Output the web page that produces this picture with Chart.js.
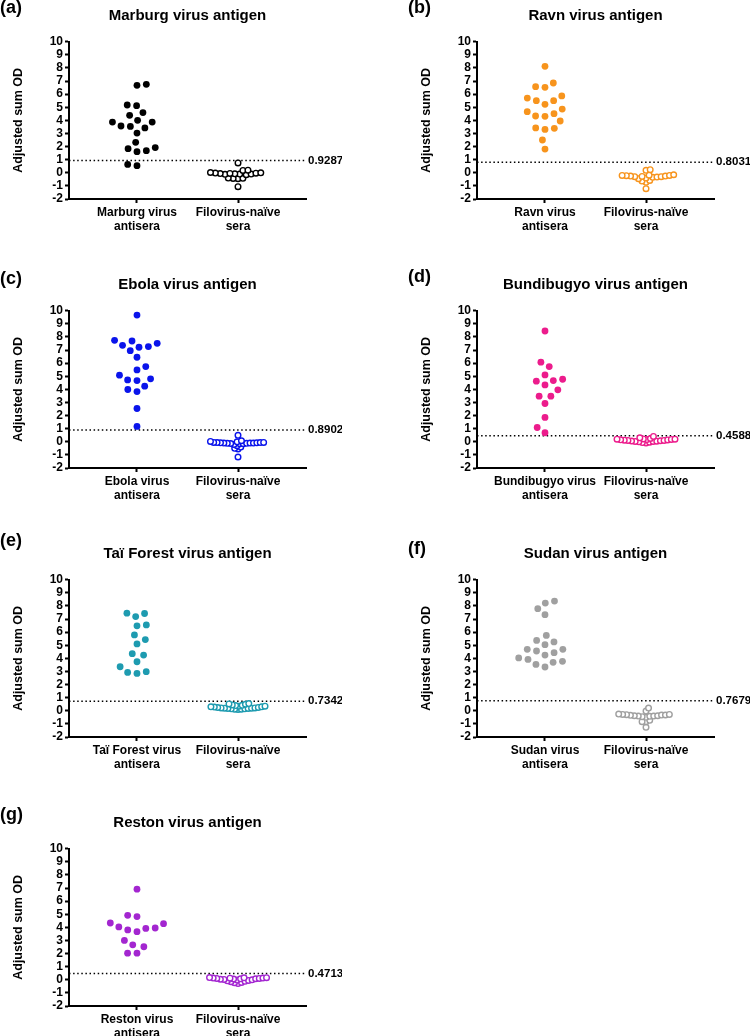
<!DOCTYPE html>
<html>
<head>
<meta charset="utf-8">
<script src="https://cdn.jsdelivr.net/npm/chart.js@4.4.1/dist/chart.umd.min.js"></script>
<style>
  html, body { margin: 0; padding: 0; background: #fff; overflow: hidden; }
  #fig { position: relative; width: 750px; height: 1036px; }
  #fig canvas { position: absolute; }
</style>
</head>
<body>
<div id="fig"></div>
<script>
// panel texts
const panelLetters = ['(a)', '(b)', '(c)', '(d)', '(e)', '(f)', '(g)'];
const antigenTitles = ['Marburg virus antigen', 'Ravn virus antigen', 'Ebola virus antigen',
  'Bundibugyo virus antigen', 'Taï Forest virus antigen', 'Sudan virus antigen', 'Reston virus antigen'];
const antiseraLabels = [
  ['Marburg virus', 'antisera'], ['Ravn virus', 'antisera'], ['Ebola virus', 'antisera'],
  ['Bundibugyo virus', 'antisera'], ['Taï Forest virus', 'antisera'], ['Sudan virus', 'antisera'],
  ['Reston virus', 'antisera']
];
const naiveLabel = ['Filovirus-naïve', 'sera'];
const yAxisTitle = 'Adjusted sum OD';
const yMin = -2, yMax = 10;

// cut-off values (dotted line)
const cutoffs = [0.9287, 0.8031, 0.8902, 0.4588, 0.7342, 0.7679, 0.4713];

// values
const marburgAntisera = [6.75, 6.67, 5.17, 5.12, 4.59, 4.38, 3.87, 3.87, 4.0, 3.54, 3.42, 3.57, 3.03, 2.32, 1.92, 1.84, 1.69, 1.61, 0.54, 0.64];
const marburgNaive = [0.75, 0.2, 0.18, 0.02, -0.02, -0.05, -0.08, -0.1, -0.12, -0.15, -0.1, -0.06, -0.03, 0.0, -0.42, -0.45, -0.43, -0.4, -1.06];

const ravnAntisera = [8.12, 6.85, 6.52, 6.57, 5.7, 5.86, 5.5, 5.5, 5.22, 4.86, 4.66, 4.51, 4.31, 4.33, 3.95, 3.39, 3.31, 3.42, 2.5, 1.81];
const ravnNaive = [0.24, 0.19, -0.15, -0.18, -0.2, -0.22, -0.25, -0.28, -0.3, -0.33, -0.35, -0.3, -0.25, -0.2, -0.45, -0.58, -0.63, -0.73, -1.21, -0.4];

const ebolaAntisera = [9.67, 7.69, 7.74, 7.36, 7.51, 7.21, 7.26, 6.95, 6.45, 5.74, 5.48, 5.08, 4.72, 4.67, 4.8, 4.24, 3.83, 3.99, 2.54, 1.17];
const ebolaNaive = [0.49, 0.08, 0.03, 0.0, -0.05, -0.06, -0.08, -0.1, -0.1, -0.12, -0.13, -0.15, -0.15, -0.12, -0.1, -0.08, -0.06, -0.05, -0.3, -0.4, -0.5, -0.55, -1.16, -0.2];

const bundibugyoAntisera = [8.45, 6.07, 5.74, 5.1, 4.67, 4.77, 4.62, 4.34, 3.96, 3.48, 3.48, 2.92, 1.86, 1.09, 0.69];
const bundibugyoNaive = [0.41, 0.3, 0.25, 0.22, 0.2, 0.18, 0.15, 0.12, 0.1, 0.08, 0.05, 0.03, 0.0, -0.03, -0.06, -0.1, 0.02, 0.06, 0.1, 0.14, 0.17, 0.2];

const taiForestAntisera = [7.42, 7.45, 7.19, 6.55, 6.48, 5.79, 5.43, 5.1, 4.25, 4.36, 3.74, 3.36, 2.98, 2.85, 2.93];
const taiForestNaive = [0.55, 0.52, 0.45, 0.4, 0.35, 0.3, 0.28, 0.25, 0.22, 0.2, 0.18, 0.15, 0.12, 0.1, 0.12, 0.15, 0.18, 0.2, 0.22, 0.26, 0.3, 0.35, 0.42, 0.5];

const sudanAntisera = [8.37, 8.22, 7.79, 7.33, 5.75, 5.37, 5.25, 5.04, 4.69, 4.69, 4.56, 4.43, 4.25, 3.92, 4.03, 3.7, 3.77, 3.34, 3.54];
const sudanNaive = [0.21, -0.02, -0.25, -0.28, -0.3, -0.32, -0.35, -0.38, -0.4, -0.42, -0.45, -0.38, -0.33, -0.28, -0.5, -0.73, -0.83, -0.83, -1.26, -0.4];

const restonAntisera = [6.91, 4.92, 4.82, 4.28, 4.33, 3.95, 3.92, 4.03, 3.8, 3.67, 3.0, 2.67, 2.52, 2.03, 2.03];
const restonNaive = [0.17, 0.15, 0.13, 0.12, 0.1, 0.08, 0.06, 0.04, 0.0, -0.05, -0.12, -0.2, -0.29, -0.22, -0.15, -0.08, -0.02, 0.03, 0.07, 0.1, 0.13, 0.16];

const antiseraGroups = [marburgAntisera, ravnAntisera, ebolaAntisera, bundibugyoAntisera, taiForestAntisera, sudanAntisera, restonAntisera];
const naiveGroups = [marburgNaive, ravnNaive, ebolaNaive, bundibugyoNaive, taiForestNaive, sudanNaive, restonNaive];

// styles
const colours = ['#000000', '#F7941D', '#0A14EB', '#EC1C8C', '#1E9BB0', '#A0A0A0', '#A326D0'];
const FONT = '"Liberation Sans", Arial, sans-serif';

// where each panel goes on the page (canvas left, top, y of the letter inside the canvas)
const panelPos = [
  [0, -10, 18], [408, -10, 18], [0, 259, 20], [408, 259, 18],
  [0, 528, 13], [408, 528, 21], [0, 797, 18]
];
const CW = 342, CH = 246;
const AREA_LEFT = 69, AREA_RIGHT = 306, AREA_TOP = 51.7, AREA_BOTTOM = 209;
const X_MIN = 0.327, X_MAX = 2.673;
const PX_X = (AREA_RIGHT - AREA_LEFT) / (X_MAX - X_MIN);
const PX_Y = (AREA_BOTTOM - AREA_TOP) / (yMax - yMin);

// scatter dot plot layout: put each point as close to the column centre
// as possible without hitting the ones already placed, squeeze if too wide
function placeOnce(sorted, dist) {
  const placed = [];
  let side = -1;
  sorted.forEach(v => {
    const py = v * PX_Y;
    const near = placed.filter(p => Math.abs(p.py - py) < dist);
    const cands = [0];
    near.forEach(p => {
      const h = Math.sqrt(dist * dist - (p.py - py) * (p.py - py));
      cands.push(p.dx + h, p.dx - h);
    });
    const ok = cands.filter(c => near.every(p => (c - p.dx) ** 2 + (py - p.py) ** 2 >= dist * dist - 0.01));
    const best = Math.min(...ok.map(c => Math.abs(c)));
    const ties = ok.filter(c => Math.abs(Math.abs(c) - best) < 0.05);
    let dx = ties.find(c => Math.sign(c) === side);
    if (dx === undefined) dx = ties[0];
    if (Math.abs(dx) > 0.05) side = -side;
    placed.push({ v: v, py: py, dx: dx });
  });
  return placed;
}

function swarm(values, centre) {
  const sorted = values.slice().sort((a, b) => a - b);
  let dist = 9.4;
  let pts = placeOnce(sorted, dist);
  while (Math.max(...pts.map(p => Math.abs(p.dx))) > 29 && dist > 1) {
    dist *= 0.93;
    pts = placeOnce(sorted, dist);
  }
  return pts.map(p => ({ x: centre + p.dx / PX_X, y: p.v }));
}

const extraText = {
  id: 'extraText',
  afterDraw(chart, args, opts) {
    const ctx = chart.ctx;
    const y = chart.scales.y.getPixelForValue(opts.cutoff);
    ctx.save();
    ctx.fillStyle = '#000';
    ctx.textAlign = 'left';
    ctx.textBaseline = 'middle';
    ctx.font = 'bold 11.5px ' + FONT;
    ctx.fillText(opts.cutoff.toFixed(4), chart.chartArea.right + 2, y);
    ctx.font = 'bold 18px ' + FONT;
    ctx.fillText(opts.letter, 0, opts.letterY);
    ctx.restore();
  }
};

Chart.defaults.font.family = FONT;
Chart.defaults.color = '#000';

const fig = document.getElementById('fig');

function criarPainel(i) {
  const canvas = document.createElement('canvas');
  canvas.width = CW;
  canvas.height = CH;
  canvas.style.left = panelPos[i][0] + 'px';
  canvas.style.top = panelPos[i][1] + 'px';
  fig.appendChild(canvas);

  const cor = colours[i];
  const categorias = [antiseraLabels[i], naiveLabel];

  new Chart(canvas, {
    type: 'scatter',
    data: {
      datasets: [
        {
          data: [{ x: X_MIN, y: cutoffs[i] }, { x: X_MAX, y: cutoffs[i] }],
          showLine: true,
          borderColor: '#000',
          borderWidth: 1.5,
          borderDash: [1.5, 2.6],
          pointRadius: 0,
          order: 3
        },
        {
          data: swarm(antiseraGroups[i], 1),
          pointRadius: 3.4,
          pointBackgroundColor: cor,
          pointBorderColor: cor,
          pointBorderWidth: 0,
          order: 1
        },
        {
          data: swarm(naiveGroups[i], 2),
          pointRadius: 2.8,
          pointBackgroundColor: '#fff',
          pointBorderColor: cor,
          pointBorderWidth: 1.4,
          order: 2
        }
      ]
    },
    options: {
      responsive: false,
      animation: false,
      devicePixelRatio: 1,
      layout: { padding: { left: 0, top: 0, right: CW - AREA_RIGHT, bottom: 0 } },
      plugins: {
        legend: { display: false },
        tooltip: { enabled: false },
        title: {
          display: true,
          text: antigenTitles[i],
          fullSize: false,
          font: { size: 15, weight: 'bold' },
          padding: { top: AREA_TOP - 34.5, bottom: 16.5 }
        },
        extraText: { cutoff: cutoffs[i], letter: panelLetters[i], letterY: panelPos[i][2] }
      },
      scales: {
        x: {
          type: 'linear',
          min: X_MIN,
          max: X_MAX,
          afterBuildTicks: (s) => { s.ticks = [{ value: 1 }, { value: 2 }]; },
          afterFit: (s) => { s.height = CH - AREA_BOTTOM; },
          ticks: {
            callback: (v) => categorias[Math.round(v) - 1],
            font: { size: 12, weight: 'bold' },
            padding: 2,
            maxRotation: 0,
            autoSkip: false
          },
          grid: { drawOnChartArea: false, drawTicks: true, tickLength: 4, tickColor: '#000', tickWidth: 2 },
          border: { display: true, color: '#000', width: 2 }
        },
        y: {
          min: yMin,
          max: yMax,
          afterFit: (s) => { s.width = AREA_LEFT; },
          ticks: { stepSize: 1, autoSkip: false, font: { size: 12, weight: 'bold' }, padding: 2 },
          grid: { drawOnChartArea: false, drawTicks: true, tickLength: 4, tickColor: '#000', tickWidth: 2 },
          border: { display: true, color: '#000', width: 2 },
          title: {
            display: true,
            text: yAxisTitle,
            font: { size: 12.5, weight: 'bold' },
            padding: { top: 10.8, bottom: 0 }
          }
        }
      }
    },
    plugins: [extraText]
  });
}

for (let i = 0; i < antigenTitles.length; i++) {
  criarPainel(i);
}
</script>
</body>
</html>
